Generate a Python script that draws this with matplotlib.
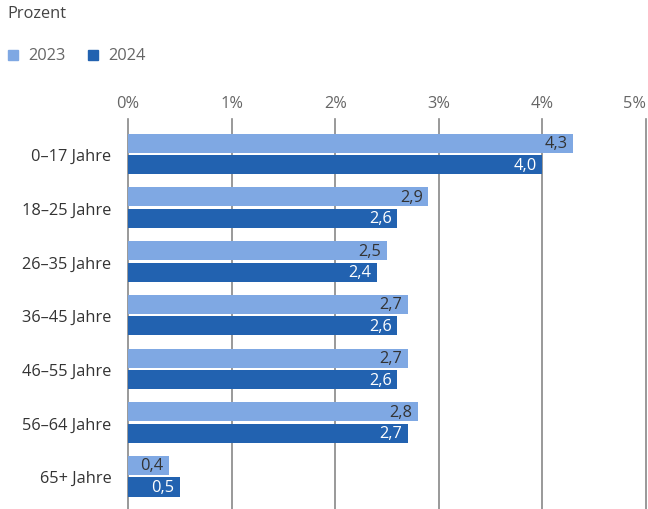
import numpy as np
import matplotlib.pyplot as plt
from matplotlib.patches import Rectangle

plt.rcParams['font.family'] = ['Open Sans', 'DejaVu Sans']

categories = ['0–17 Jahre', '18–25 Jahre', '26–35 Jahre', '36–45 Jahre',
              '46–55 Jahre', '56–64 Jahre', '65+ Jahre']
values_2023 = [4.3, 2.9, 2.5, 2.7, 2.7, 2.8, 0.4]
values_2024 = [4.0, 2.6, 2.4, 2.6, 2.6, 2.7, 0.5]
series_names = ['2023', '2024']
colors = ['#7fa8e3', '#2262b0']
label_colors = ['#333333', '#ffffff']

W, H = 648, 510
FS = 11.8
fig = plt.figure(figsize=(W / 100, H / 100), dpi=100)
ax = fig.add_axes([128 / W, 0, (646 - 128) / W, 1 - 120 / H])

y = np.arange(len(categories))
offset = 0.2
height = 0.355
for vals, off, col, lcol in zip([values_2023, values_2024], [-offset, offset],
                                colors, label_colors):
    bars = ax.barh(y + off, vals, height=height, color=col, zorder=3)
    for b, v in zip(bars, vals):
        ax.text(b.get_width() - 0.055, b.get_y() + b.get_height() / 2,
                f'{v:.1f}'.replace('.', ','), ha='right', va='center',
                color=lcol, fontsize=FS, zorder=4)

ax.set_xlim(0, 5)
ax.set_ylim(6.61, -0.65)
ax.set_xticks(range(6))
ax.set_xticklabels([f'{i}%' for i in range(6)])
ax.xaxis.tick_top()
ax.tick_params(axis='x', length=0, pad=6, labelsize=FS, labelcolor='#666666')
ax.get_xticklabels()[-1].set_horizontalalignment('right')
ax.set_yticks(y)
ax.set_yticklabels(categories)
ax.tick_params(axis='y', length=0, pad=12, labelsize=FS, labelcolor='#333333')
ax.grid(axis='x', color='#888888', linewidth=1.2, zorder=0)
for line in ax.get_xgridlines():
    line.set_clip_on(False)
for s in ax.spines.values():
    s.set_visible(False)

fig.text(7 / W, 1 - 14 / H, 'Prozent', ha='left', va='center',
         fontsize=FS, color='#444444')

# legend
lx = [8, 88]
for x0, name, col in zip(lx, series_names, colors):
    fig.patches.append(Rectangle((x0 / W, 1 - 61 / H), 10 / W, 10 / H,
                                 transform=fig.transFigure, color=col))
    fig.text((x0 + 20) / W, 1 - 56 / H, name, ha='left', va='center',
             fontsize=FS, color='#666666')

fig.savefig('out.png', dpi=100)
